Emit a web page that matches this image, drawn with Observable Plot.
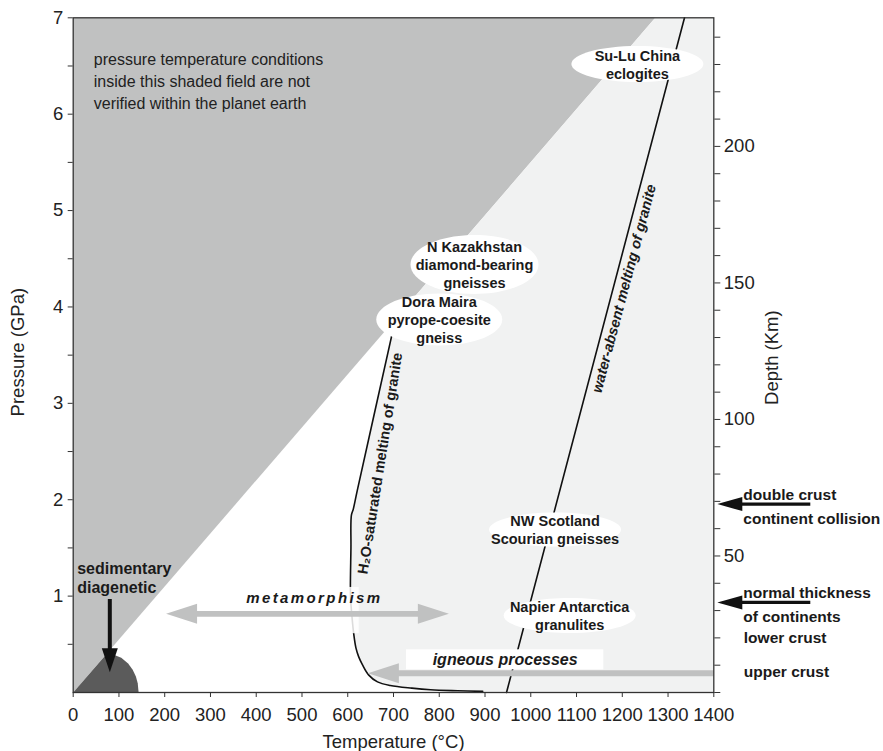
<!DOCTYPE html>
<html>
<head>
<meta charset="utf-8">
<script src="https://cdn.jsdelivr.net/npm/d3@7"></script>
<script src="https://cdn.jsdelivr.net/npm/@observablehq/plot@0.6"></script>
<style>
  body { margin: 0; background: #fff; }
  #chart svg { display: block; }
</style>
</head>
<body>
<div id="chart"></div>
<script>
// ---- Axes -------------------------------------------------------------
const temperatureTicks = [0, 100, 200, 300, 400, 500, 600, 700, 800, 900, 1000, 1100, 1200, 1300, 1400];
const pressureTicks = [1, 2, 3, 4, 5, 6, 7];
const pressureMinorTicks = [0.5, 1.5, 2.5, 3.5, 4.5, 5.5, 6.5];
const depthLabelTicks = [50, 100, 150, 200];
const depthMinorTicks = [0, 10, 20, 30, 40, 60, 70, 80, 90, 110, 120, 130, 140, 160, 170, 180, 190, 210, 220, 230, 240];
const KM_PER_GPA = 35.3;

// ---- P–T fields [temperature °C, pressure GPa] ------------------------
// field of conditions not realised inside the Earth
const unverifiedField = [[0, 0], [1272, 7], [0, 7]];
// H2O-saturated granite solidus, from its top end down to the T axis
const h2oSaturatedSolidus = [
  [697, 3.72], [621, 2.1], [612, 1.9], [608, 1.84], [607, 1.5], [606, 1.0],
  [609, 0.8], [613, 0.61], [618, 0.46], [624, 0.37], [632, 0.29], [646, 0.18],
  [665, 0.11], [693, 0.073], [740, 0.045], [781, 0.028], [840, 0.018], [895, 0.012]
];
// water-absent granite melting
const waterAbsentSolidus = [[947, 0], [1336, 7]];
// sedimentary / diagenetic conditions near the surface
const diageneticField = [
  [0, 0], [72, 0.395], [80, 0.40], [90, 0.39], [105, 0.36], [120, 0.30],
  [130, 0.235], [137, 0.165], [141, 0.097], [143, 0]
];

// ---- Rock localities --------------------------------------------------
const localities = [
  { site: "Su-Lu China\neclogites", T: 1233, P: 6.52 },
  { site: "N Kazakhstan\ndiamond-bearing\ngneisses", T: 877, P: 4.44 },
  { site: "Dora Maira\npyrope-coesite\ngneiss", T: 800, P: 3.87 },
  { site: "NW Scotland\nScourian gneisses", T: 1053, P: 1.69 },
  { site: "Napier Antarctica\ngranulites", T: 1085, P: 0.80 }
];

// ---- Process ranges ----------------------------------------------------
const metamorphism = { from: 203, to: 821, P: 0.816 };
const igneous = { from: 1400, to: 644, P: 0.2 };
const diagenesis = { T: 80, from: 0.965, to: 0.21 };

// ---- Crustal thickness (km) -------------------------------------------
const crustArrows = [
  { label: "double crust\ncontinent collision", km: 69 },
  { label: "normal thickness\nof continents", km: 33 }
];
const crustLabels = [
  { label: "lower crust", km: 20 },
  { label: "upper crust", km: 7.5 }
];

// ---- Layout ------------------------------------------------------------
const W = 883, H = 751;
const M = { top: 17.3, right: 169.7, bottom: 59, left: 72.7 };
const degPerPx = 1400 / (W - M.left - M.right);
const gpaPerPx = 7 / (H - M.top - M.bottom);
const kmToGPa = km => km / KM_PER_GPA;

const GREY = "#c0c1c1";
const PALE = "#f1f2f2";
const INK = "#1a1a1a";

// filled triangular arrow head pointing to +x with its tip at the origin
const arrowHead = (len, wid) => ({
  draw(ctx) {
    ctx.moveTo(0, 0);
    ctx.lineTo(-len, -wid / 2);
    ctx.lineTo(-len, wid / 2);
    ctx.closePath();
  }
});
// ellipse of radii rx, ry (pixels)
const ellipse = (rx, ry) => ({
  draw(ctx) {
    const k = 0.5523;
    ctx.moveTo(rx, 0);
    ctx.bezierCurveTo(rx, ry * k, rx * k, ry, 0, ry);
    ctx.bezierCurveTo(-rx * k, ry, -rx, ry * k, -rx, 0);
    ctx.bezierCurveTo(-rx, -ry * k, -rx * k, -ry, 0, -ry);
    ctx.bezierCurveTo(rx * k, -ry, rx, -ry * k, rx, 0);
    ctx.closePath();
  }
});
const bubbleRadii = [[66, 18], [64, 29.5], [63, 26], [66, 17], [66, 17.5]];

// pale field: right of the H2O-saturated solidus up to the shaded field
const paleField = [[1272, 7], [1400, 7], [1400, 0], [895, 0],
  ...h2oSaturatedSolidus.slice().reverse(), [709, 3.9]];

const px = d => d[0], py = d => d[1];

const grayHeadLen = 31, grayHeadWid = 20;
const mHead = grayHeadLen * degPerPx * 0.6;
const sedHeadLen = 24, sedHeadWid = 16;
const crustHeadLen = 25, crustHeadWid = 14;
const crustTip = 1400 + 3.5 * degPerPx;
const crustTail = 1400 + 97 * degPerPx;

const chart = Plot.plot({
  width: W,
  height: H,
  marginTop: M.top,
  marginRight: M.right,
  marginBottom: M.bottom,
  marginLeft: M.left,
  x: { domain: [0, 1400] },
  y: { domain: [0, 7] },
  style: { fontFamily: "'Liberation Sans', Arial, Helvetica, sans-serif", color: "#222", background: "#fff" },
  marks: [
    // fields
    Plot.line(unverifiedField, { x: px, y: py, fill: GREY, stroke: "none" }),
    Plot.line(paleField, { x: px, y: py, fill: PALE, stroke: "none" }),
    Plot.line(diageneticField, { x: px, y: py, fill: "#5b5b5b", stroke: "none" }),

    // melting curves
    Plot.line(h2oSaturatedSolidus, { x: px, y: py, stroke: "#111", strokeWidth: 1.6, curve: "catmull-rom" }),
    Plot.line(waterAbsentSolidus, { x: px, y: py, stroke: "#111", strokeWidth: 1.6 }),

    // curve labels
    Plot.text(["H\u2082O-saturated melting of granite"], {
      x: 671, y: 2.376, rotate: -81, fontSize: 14.5, fontWeight: "bold", fill: INK
    }),
    Plot.text(["water-absent melting of granite"], {
      x: 1204, y: 4.19, rotate: -75.2, fontSize: 14.5, fontWeight: "bold", fontStyle: "italic", fill: INK
    }),

    // label backgrounds for the process arrows
    Plot.rect([0], { x1: 588, x2: 625, y1: 0.61, y2: 1.09, fill: "#fff", fillOpacity: 0.85 }),
    Plot.rect([0], { x1: 728.5, x2: 1159.6, y1: 0.235, y2: 0.443, fill: "#fff" }),

    // metamorphism double arrow
    Plot.ruleY([metamorphism], { y: "P", x1: d => d.from + mHead, x2: d => d.to - mHead, stroke: GREY, strokeWidth: 5.7 }),
    Plot.dot([metamorphism], { x: "from", y: "P", symbol: arrowHead(grayHeadLen, grayHeadWid), rotate: 180, fill: GREY, stroke: "none" }),
    Plot.dot([metamorphism], { x: "to", y: "P", symbol: arrowHead(grayHeadLen, grayHeadWid), fill: GREY, stroke: "none" }),
    Plot.text(["metamorphism"], {
      x: 527, y: 0.975,
      fontSize: 15, fontWeight: "bold", fontStyle: "italic", fill: INK
    }),

    // igneous processes arrow
    Plot.ruleY([igneous], { y: "P", x1: "from", x2: d => d.to + mHead, stroke: GREY, strokeWidth: 6 }),
    Plot.dot([igneous], { x: "to", y: "P", symbol: arrowHead(grayHeadLen, grayHeadWid), rotate: 180, fill: GREY, stroke: "none" }),
    Plot.text(["igneous processes"], {
      x: 944, y: 0.342, fontSize: 16, fontWeight: "bold", fontStyle: "italic", fill: INK
    }),

    // sedimentary / diagenetic arrow
    Plot.ruleX([diagenesis], { x: "T", y1: "from", y2: d => d.to + sedHeadLen * gpaPerPx * 0.6, stroke: "#111", strokeWidth: 4 }),
    Plot.dot([diagenesis], { x: "T", y: "to", symbol: arrowHead(sedHeadLen, sedHeadWid), rotate: 90, fill: "#111", stroke: "none" }),
    Plot.text(["sedimentary\ndiagenetic"], {
      x: 8.7, y: 1.198, textAnchor: "start", fontSize: 16, fontWeight: "bold", lineHeight: 1.19, fill: INK
    }),

    // note on the shaded field
    Plot.text(["pressure temperature conditions\ninside this shaded field are not\nverified within the planet earth"], {
      x: 45, y: 6.355, textAnchor: "start", fontSize: 16, lineHeight: 1.375, fill: "#222"
    }),

    // localities
    ...localities.map((d, i) => Plot.dot([d], {
      x: "T", y: "P", symbol: ellipse(...bubbleRadii[i]), fill: "#fff", stroke: "none"
    })),
    Plot.text(localities, {
      x: "T", y: "P", text: "site", fontSize: 14.5, fontWeight: "bold", lineHeight: 1.24, fill: INK
    }),

    // crustal thickness annotations right of the depth axis
    Plot.ruleY(crustArrows, { y: d => kmToGPa(d.km), x1: crustTip + crustHeadLen * degPerPx * 0.6, x2: crustTail, stroke: "#111", strokeWidth: 3.3 }),
    Plot.dot(crustArrows, { x: crustTip, y: d => kmToGPa(d.km), symbol: arrowHead(crustHeadLen, crustHeadWid), rotate: 180, fill: "#111", stroke: "none" }),
    Plot.text(crustArrows, {
      x: 1400, y: d => kmToGPa(d.km), text: "label", dx: 29.5, textAnchor: "start",
      fontSize: 15.5, fontWeight: "bold", lineHeight: 1.55, fill: INK
    }),
    Plot.text(crustLabels, {
      x: 1400, y: d => kmToGPa(d.km), text: "label", dx: 30, textAnchor: "start",
      fontSize: 15.5, fontWeight: "bold", fill: INK
    }),

    // frame and axes
    Plot.frame({ stroke: "#333", strokeWidth: 1.3 }),
    Plot.axisX({ ticks: temperatureTicks, tickFormat: d => String(d), tickSize: 5, tickPadding: 10, fontSize: 18.5, label: null, stroke: "#333" }),
    Plot.axisY({ ticks: pressureTicks, tickFormat: d => String(d), tickSize: 5, tickPadding: 5, fontSize: 18.5, label: null, stroke: "#333" }),
    Plot.axisY({ ticks: pressureMinorTicks, tickSize: 5, tickFormat: () => "", label: null, stroke: "#333" }),
    Plot.axisY({
      anchor: "right", ticks: depthLabelTicks.map(kmToGPa), tickFormat: p => String(Math.round(p * KM_PER_GPA)),
      tickSize: 6, tickPadding: 4, fontSize: 18.5, label: null, stroke: "#333"
    }),
    Plot.axisY({ anchor: "right", ticks: depthMinorTicks.map(kmToGPa), tickSize: 6, tickFormat: () => "", label: null, stroke: "#333" }),

    // axis titles
    Plot.text(["Temperature (°C)"], { frameAnchor: "bottom", dy: 50, textAnchor: "middle", lineAnchor: "middle", fontSize: 18.5 }),
    Plot.text(["Pressure (GPa)"], { frameAnchor: "left", dx: -55, dy: -3, rotate: -90, textAnchor: "middle", lineAnchor: "middle", fontSize: 18.5 }),
    Plot.text(["Depth (Km)"], { frameAnchor: "right", dx: 58.4, dy: 2.5, rotate: -90, textAnchor: "middle", lineAnchor: "middle", fontSize: 18.5 })
  ]
});

// wide letter spacing on the metamorphism label
chart.querySelectorAll("text").forEach(t => {
  if (t.textContent === "metamorphism") t.setAttribute("letter-spacing", "2.4");
});

document.getElementById("chart").append(chart);
</script>
</body>
</html>
